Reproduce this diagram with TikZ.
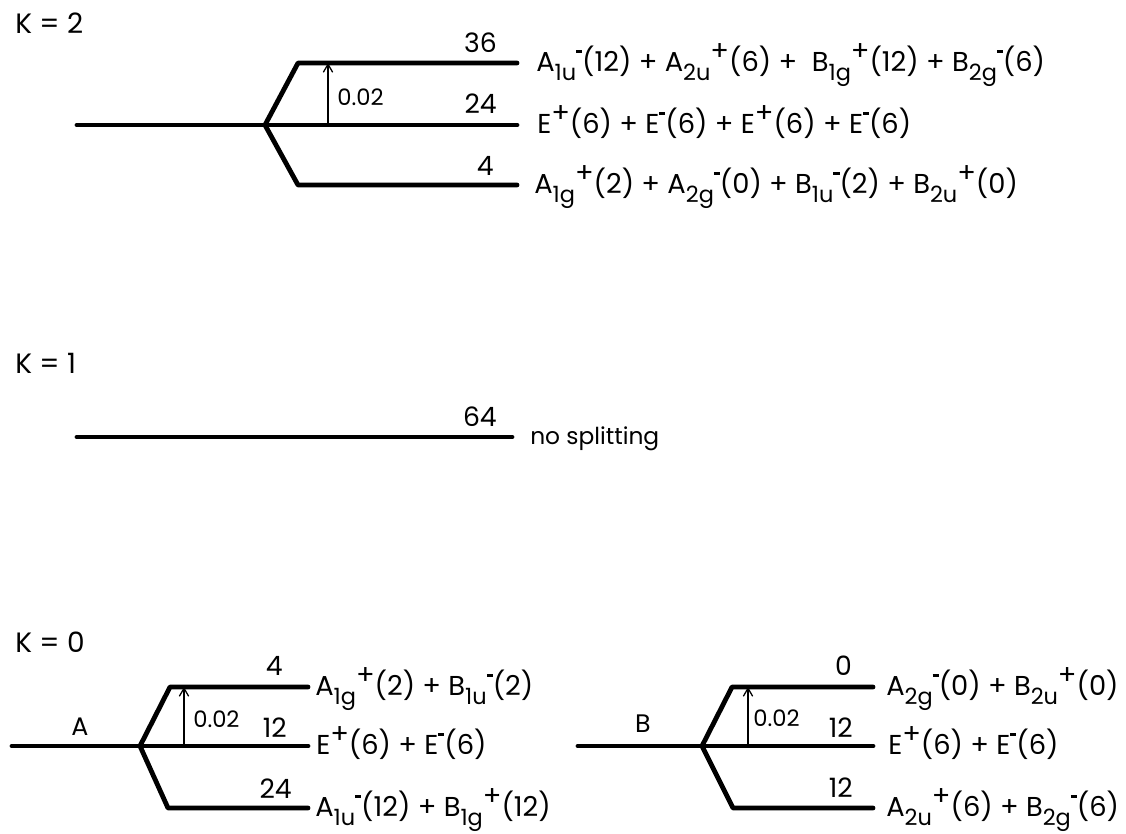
\documentclass[tikz,border=0pt]{standalone}
\usepackage{fontspec}
\setmainfont{Poppins}
\usetikzlibrary{arrows.meta}
% subscript, raised plus, raised short bar
\newcommand{\lo}[1]{\raisebox{-0.36em}{\scalebox{0.82}{#1}}}
\newcommand{\pl}{\raisebox{0.4em}{+}}
\newcommand{\mi}{\raisebox{0.66em}{\rule{0.22em}{0.1em}}}
\newcommand{\irr}[3]{#1\lo{#2}#3}
\tikzset{
  level/.style={line width=3.6pt, line cap=round, line join=round},
  gapline/.style={-{Straight Barb[length=6pt,width=7pt]}, line width=0.95pt},
  lab/.style={anchor=base west, inner sep=0, font=\fontsize{20.5}{24}\selectfont},
  note/.style={anchor=base west, inner sep=0, font=\fontsize{17.5}{21}\selectfont},
  num/.style={anchor=base east, inner sep=0, font=\fontsize{20}{24}\selectfont},
  small/.style={anchor=base west, inner sep=0, font=\fontsize{17}{20}\selectfont},
  head/.style={anchor=base west, inner sep=0, font=\fontsize{21}{24}\selectfont},
  branch/.style={anchor=base, inner sep=0, font=\fontsize{19}{22}\selectfont},
}
\begin{document}
\begin{tikzpicture}[x=0.75pt,y=-0.75pt]
\useasboundingbox (0,0) rectangle (1126,833);

% ---------------- K = 2 ----------------
\node[head] (k2) at (15,33) {K = 2};
\coordinate (k2s) at (77,125);
\coordinate (k2b) at (265,125);
\coordinate (k2m) at (517,125);
\coordinate (k2uc) at (298,63);
\coordinate (k2u) at (517,63);
\coordinate (k2lc) at (298,185);
\coordinate (k2l) at (517,185);
\coordinate (k2a0) at (328,125);
\coordinate (k2a1) at (328,63);
\draw[level] (k2s) -- (k2m);
\draw[level] (k2b) -- (k2uc) -- (k2u);
\draw[level] (k2b) -- (k2lc) -- (k2l);
\draw[gapline] (k2a0) -- (k2a1);
\node[small] (k2g) at (337,105) {0.02};
\node[num] (k2n1) at (497,52) {36};
\node[num] (k2n2) at (497,113) {24};
\node[num] (k2n3) at (494,175) {4};
\node[lab] (k2t1) at (536,71) {\irr{A}{1u}{\mi}(12) + \irr{A}{2u}{\pl}(6) +\ \ \irr{B}{1g}{\pl}(12) + \irr{B}{2g}{\mi}(6)};
\node[lab] (k2t2) at (537,133) {E\pl(6) + E\mi(6) + E\pl(6) + E\mi(6)};
\node[lab] (k2t3) at (534,193) {\irr{A}{1g}{\pl}(2) + \irr{A}{2g}{\mi}(0) + \irr{B}{1u}{\mi}(2) + \irr{B}{2u}{\pl}(0)};

% ---------------- K = 1 ----------------
\node[head] (k1) at (15,373) {K = 1};
\coordinate (k1s) at (77,437);
\coordinate (k1e) at (512,437);
\draw[level] (k1s) -- (k1e);
\node[num] (k1n) at (497,426) {64};
\node[note] (k1t) at (530,444) {no splitting};

% ---------------- K = 0 ----------------
\node[head] (k0) at (15,652) {K = 0};

% branch A
\coordinate (as) at (12,746);
\coordinate (ab) at (140,746);
\coordinate (am) at (308,746);
\coordinate (auc) at (170,687);
\coordinate (au) at (308,687);
\coordinate (alc) at (168,808);
\coordinate (al) at (308,808);
\coordinate (aa0) at (184,746);
\coordinate (aa1) at (184,687);
\draw[level] (as) -- (am);
\draw[level] (ab) -- (auc) -- (au);
\draw[level] (ab) -- (alc) -- (al);
\draw[gapline] (aa0) -- (aa1);
\node[branch] (aname) at (80,735) {A};
\node[small] (ag) at (193,727) {0.02};
\node[num] (an1) at (283,675) {4};
\node[num] (an2) at (287,737) {12};
\node[num] (an3) at (292,798) {24};
\node[lab] (at1) at (315,695) {\irr{A}{1g}{\pl}(2) + \irr{B}{1u}{\mi}(2)};
\node[lab] (at2) at (316,754) {E\pl(6) + E\mi(6)};
\node[lab] (at3) at (315,816) {\irr{A}{1u}{\mi}(12) + \irr{B}{1g}{\pl}(12)};

% branch B
\coordinate (bs) at (578,746);
\coordinate (bb) at (702,746);
\coordinate (bm) at (873,746);
\coordinate (buc) at (732,687);
\coordinate (bu) at (873,687);
\coordinate (blc) at (733,808);
\coordinate (bl) at (873,808);
\coordinate (ba0) at (748,746);
\coordinate (ba1) at (748,687);
\draw[level] (bs) -- (bm);
\draw[level] (bb) -- (buc) -- (bu);
\draw[level] (bb) -- (blc) -- (bl);
\draw[gapline] (ba0) -- (ba1);
\node[branch] (bname) at (643,732) {B};
\node[small] (bg) at (753,726) {0.02};
\node[num] (bn1) at (852,675) {0};
\node[num] (bn2) at (853,737) {12};
\node[num] (bn3) at (853,797) {12};
\node[lab] (bt1) at (886,695) {\irr{A}{2g}{\mi}(0) + \irr{B}{2u}{\pl}(0)};
\node[lab] (bt2) at (888,754) {E\pl(6) + E\mi(6)};
\node[lab] (bt3) at (886,816) {\irr{A}{2u}{\pl}(6) + \irr{B}{2g}{\mi}(6)};
\end{tikzpicture}
\end{document}
